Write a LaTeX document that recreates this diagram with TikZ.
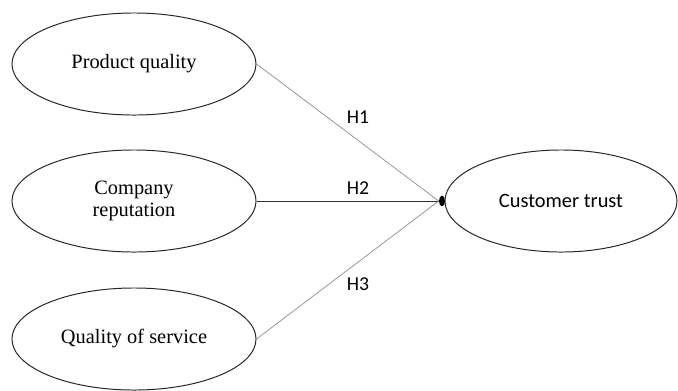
\documentclass[tikz,border=0pt]{standalone}
\usepackage{fontspec}
\setmainfont{Liberation Serif}
\newfontfamily\hypfont{Carlito}
\usetikzlibrary{positioning, shapes.geometric}
\tikzset{
construct/.style = { ellipse, draw = black!85, line width = 0.7pt, fill = white, minimum width = 6.1cm, minimum height = 2.55cm, inner sep = 0pt, align = center, font = \fontsize{14.5}{16}\selectfont },
outcome/.style = { construct, minimum width = 5.8cm, font = \hypfont\fontsize{14.5}{16}\selectfont },
hlabel/.style = { draw = none, fill = none, inner sep = 0pt, font = \hypfont\fontsize{14}{16}\selectfont },
}

\begin{document}
\begin{tikzpicture}[x=0.025cm, y=-0.025cm]
    \useasboundingbox (0,0) rectangle (678,390);
    % constructs
    \node[construct] (pq) at (134,64) {Product quality};
    \node[construct] (cr) at (134,201) {Company\\reputation};
    \node[construct] (qs) at (134,339) {Quality of service};
    \node[outcome] (ct) at (561,201) {Customer trust};
    \node[ellipse, fill = black, draw = none, inner sep = 0pt, minimum width = 0.15cm, minimum height = 0.27cm] (jn) at (442,201) {};
    % hypotheses
    \begin{scope}[every edge/.style={draw=black!45, line width=0.5pt}]
      \path [-] (pq.east) edge (jn.west);
      \path [-] (cr.east) edge [draw=black!80] (jn.west);
      \path [-] (qs.east) edge (jn.west);
    \end{scope}
    \node[hlabel] (h1) at (358,117) {H1};
    \node[hlabel] (h2) at (358,188) {H2};
    \node[hlabel] (h3) at (358,284) {H3};
  \end{tikzpicture}
\end{document}
